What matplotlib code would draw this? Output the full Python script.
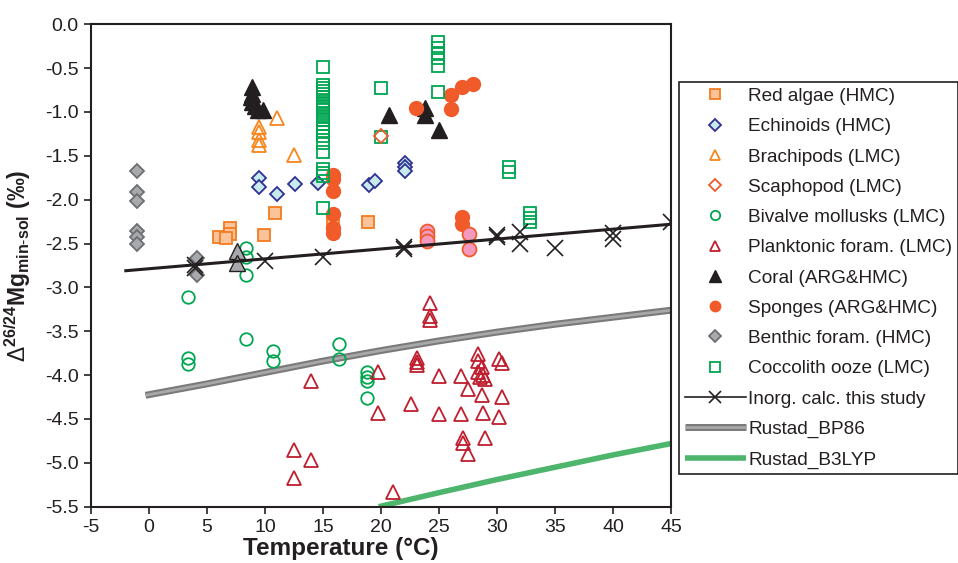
import numpy as np
import matplotlib
matplotlib.use('Agg')
import matplotlib.pyplot as plt
import matplotlib.patheffects as pe

plt.rcParams['font.family'] = ['Liberation Sans', 'DejaVu Sans']
plt.rcParams['mathtext.fontset'] = 'custom'
plt.rcParams['mathtext.rm'] = 'Liberation Sans'
plt.rcParams['mathtext.bf'] = 'Liberation Sans:bold'
plt.rcParams['mathtext.it'] = 'Liberation Sans:italic'
plt.rcParams['axes.unicode_minus'] = False

'''Data read from the figure (Temperature in degC, d26/24Mg in permil)'''
red_algae_T = [6.0, 7.0, 7.0, 6.6, 9.9, 10.9, 18.9, 15.9]
red_algae_y = [-2.43, -2.32, -2.39, -2.44, -2.40, -2.15, -2.25, -2.27]

echinoid_T = [9.5, 9.5, 11.0, 12.6, 14.6, 19.0, 19.5, 22.1, 22.1, 22.1]
echinoid_y = [-1.75, -1.85, -1.94, -1.82, -1.81, -1.83, -1.79, -1.58, -1.63, -1.67]

brach_T = [9.5, 9.5, 9.5, 9.5, 11.0, 12.5]
brach_y = [-1.17, -1.23, -1.32, -1.38, -1.07, -1.49]

scaph_T = [20.0]
scaph_y = [-1.28]

bivalve_T = [8.4, 8.4, 8.4, 3.4, 8.4, 3.4, 3.4, 10.7, 10.7, 16.4, 16.4, 18.8, 18.8, 18.8, 18.8]
bivalve_y = [-2.55, -2.65, -2.86, -3.11, -3.59, -3.80, -3.87, -3.72, -3.84, -3.64, -3.82,
             -3.97, -4.02, -4.07, -4.26]

plank_T = [14.0, 12.5, 14.0, 12.5, 24.2, 24.2, 24.2, 23.1, 23.1, 23.1, 19.7, 19.7, 22.6,
           25.0, 25.0, 26.9, 26.9, 27.5, 27.1, 27.1, 27.5, 28.4, 28.4, 28.7, 28.4, 28.5,
           28.8, 29.0, 28.7, 28.8, 29.0, 30.2, 30.4, 30.4, 30.2, 21.0]
plank_y = [-4.07, -4.85, -4.97, -5.17, -3.18, -3.33, -3.37, -3.80, -3.85, -3.88, -3.96,
           -4.43, -4.33, -4.01, -4.44, -4.01, -4.44, -4.16, -4.72, -4.77, -4.90, -3.76,
           -3.84, -3.91, -3.97, -4.02, -4.00, -4.04, -4.23, -4.43, -4.72, -3.82, -3.86,
           -4.25, -4.48, -5.33]

coral_T = [8.9, 8.9, 8.8, 8.9, 9.1, 9.4, 9.8, 20.7, 23.8, 23.8, 25.0]
coral_y = [-0.72, -0.79, -0.83, -0.89, -0.93, -0.98, -0.98, -1.03, -0.95, -1.03, -1.21]

coral_gray_T = [7.6, 7.6]
coral_gray_y = [-2.59, -2.72]

sponge_T = [15.9, 15.9, 15.9, 15.9, 15.9, 15.9, 23.0, 26.0, 26.0, 27.0, 27.9, 27.0, 27.0]
sponge_y = [-1.72, -1.77, -1.90, -2.16, -2.32, -2.38, -0.95, -0.81, -0.97, -0.72, -0.68,
            -2.20, -2.28]

sponge_pink_T = [24.0, 24.0, 24.0, 27.6, 27.6]
sponge_pink_y = [-2.36, -2.41, -2.47, -2.39, -2.56]

benthic_T = [-1.0, -1.0, -1.0, -1.0, -1.0, -1.0, 4.1, 4.1]
benthic_y = [-1.67, -1.91, -2.02, -2.36, -2.43, -2.51, -2.67, -2.86]

cocco_T = [15.0] * 23 + [20.0, 20.0, 24.9, 24.9, 24.9, 24.9, 24.9, 24.9, 31.0, 31.0,
                         32.8, 32.8, 32.8]
cocco_y = [-0.49, -0.69, -0.73, -0.76, -0.80, -0.83, -0.87, -0.91, -0.94, -0.98, -1.02,
           -1.06, -1.09, -1.14, -1.18, -1.23, -1.27, -1.35, -1.46, -1.65, -1.70, -1.73,
           -2.10, -0.73, -1.29, -0.20, -0.27, -0.33, -0.39, -0.48, -0.77, -1.63, -1.68,
           -2.15, -2.21, -2.26]

inorg_T = [4, 4, 10, 15, 22, 22, 30, 30, 32, 32, 35, 40, 40, 45]
inorg_y = [-2.74, -2.78, -2.70, -2.65, -2.54, -2.56, -2.40, -2.42, -2.37, -2.50, -2.55,
           -2.38, -2.45, -2.26]
inorg_fit_T = [-2, 45]
inorg_fit_y = [-2.81, -2.28]

bp86_T = [-0.3, 5, 10, 15, 20, 25, 30, 35, 40, 45]
bp86_y = [-4.23, -4.10, -3.97, -3.84, -3.72, -3.61, -3.51, -3.42, -3.34, -3.26]

b3lyp_T = [19.8, 25, 30, 35, 40, 45]
b3lyp_y = [-5.50, -5.34, -5.19, -5.05, -4.91, -4.78]

'''Figure and axes'''
fig = plt.figure(figsize=(9.58, 5.63), dpi=100)
ax = fig.add_axes([0.095, 0.10, 0.6055, 0.857])
dark = '#231F20'

ax.plot(bp86_T, bp86_y, color='#a8a8a8', lw=2, solid_capstyle='butt', zorder=2,
        path_effects=[pe.Stroke(linewidth=5, foreground='#7a7a7a'), pe.Normal()],
        label='Rustad_BP86')
ax.plot(b3lyp_T, b3lyp_y, color='#4db56c', lw=4, solid_capstyle='butt', zorder=2,
        label='Rustad_B3LYP')

ms = 9
ax.plot(red_algae_T, red_algae_y, 's', ms=ms, mfc='#FBC39A', mec='#F47B20', mew=1.3,
        label='Red algae (HMC)', zorder=3)
ax.plot(echinoid_T, echinoid_y, 'D', ms=ms - 1.5, mfc='#C8EAEA', mec='#2E3192', mew=1.3,
        label='Echinoids (HMC)', zorder=3)
ax.plot(brach_T, brach_y, '^', ms=ms + 1, mfc='none', mec='#F7861D', mew=1.3,
        label='Brachipods (LMC)', zorder=3)
ax.plot(scaph_T, scaph_y, 'D', ms=ms - 1.5, mfc='none', mec='#F15A29', mew=1.3,
        label='Scaphopod (LMC)', zorder=4)
ax.plot(bivalve_T, bivalve_y, 'o', ms=ms, mfc='none', mec='#00A651', mew=1.3,
        label='Bivalve mollusks (LMC)', zorder=3)
ax.plot(plank_T, plank_y, '^', ms=ms + 1, mfc='none', mec='#BE1E2D', mew=1.3,
        label='Planktonic foram. (LMC)', zorder=3)
ax.plot(coral_T, coral_y, '^', ms=ms + 2, mfc=dark, mec=dark, mew=1,
        label='Coral (ARG&HMC)', zorder=3)
ax.plot(coral_gray_T, coral_gray_y, '^', ms=ms + 2, mfc='#A7A9AC', mec=dark, mew=1,
        zorder=3)
ax.plot(sponge_T, sponge_y, 'o', ms=ms + 1, mfc='#F15A29', mec='#F15A29', mew=1,
        label='Sponges (ARG&HMC)', zorder=3)
ax.plot(sponge_pink_T, sponge_pink_y, 'o', ms=ms + 1, mfc='#F49AC1', mec='#F15A29', mew=1.3,
        zorder=3)
ax.plot(benthic_T, benthic_y, 'D', ms=ms - 1.5, mfc='#A7A9AC', mec='#6D6E71', mew=1.3,
        label='Benthic foram. (HMC)', zorder=3)
ax.plot(cocco_T, cocco_y, 's', ms=ms, mfc='none', mec='#00A651', mew=1.3,
        label='Coccolith ooze (LMC)', zorder=3)
ax.plot(inorg_fit_T, inorg_fit_y, '-', color=dark, lw=2.2, zorder=4)
ax.plot(inorg_T, inorg_y, 'x', ms=12, mec=dark, mew=1.2, zorder=5)

'''Axes formatting'''
ax.set_xlim(-5, 45)
ax.set_ylim(-5.5, 0.0)
ax.set_xticks(np.arange(-5, 46, 5))
ax.set_yticks(np.arange(-5.5, 0.01, 0.5))
ax.set_yticklabels([f'{v:.1f}' for v in np.arange(-5.5, 0.01, 0.5)])
ax.tick_params(direction='out', length=5, width=1.2, labelsize=14, colors=dark,
               top=False, right=False, pad=4)
for sp in ax.spines.values():
    sp.set_linewidth(1.5)
    sp.set_color(dark)

ax.set_xlabel('Temperature (°C)', fontsize=17.5, fontweight='bold', color=dark)
ax.xaxis.set_label_coords(0.43, -0.062)
ax.set_ylabel(r'$\Delta^{\mathbf{26/24}}\mathbf{Mg}_{\mathbf{min\text{-}sol}}$ (‰)',
              fontsize=16.5, fontweight='bold', color=dark)
ax.yaxis.set_label_coords(-0.1, 0.5)

'''Legend'''
inorg_handle = plt.Line2D([], [], color=dark, lw=1.2, marker='x', ms=12, mew=1.2)
handles, labels = ax.get_legend_handles_labels()
order = ['Red algae (HMC)', 'Echinoids (HMC)', 'Brachipods (LMC)', 'Scaphopod (LMC)',
         'Bivalve mollusks (LMC)', 'Planktonic foram. (LMC)', 'Coral (ARG&HMC)',
         'Sponges (ARG&HMC)', 'Benthic foram. (HMC)', 'Coccolith ooze (LMC)']
hmap = dict(zip(labels, handles))
leg_h = [hmap[k] for k in order] + [inorg_handle, hmap['Rustad_BP86'], hmap['Rustad_B3LYP']]
leg_l = order + ['Inorg. calc. this study', 'Rustad_BP86', 'Rustad_B3LYP']
leg = fig.legend(leg_h, leg_l, loc='upper left', bbox_to_anchor=(679 / 958, 1 - 82 / 563),
                 fontsize=13.7, markerscale=0.75, handlelength=3.2, handletextpad=0.15,
                 labelspacing=0.68, borderpad=0.3, borderaxespad=0, fancybox=False,
                 framealpha=1, edgecolor=dark, labelcolor=dark)
leg.get_frame().set_linewidth(1.2)

plt.savefig('out.png', dpi=100)
